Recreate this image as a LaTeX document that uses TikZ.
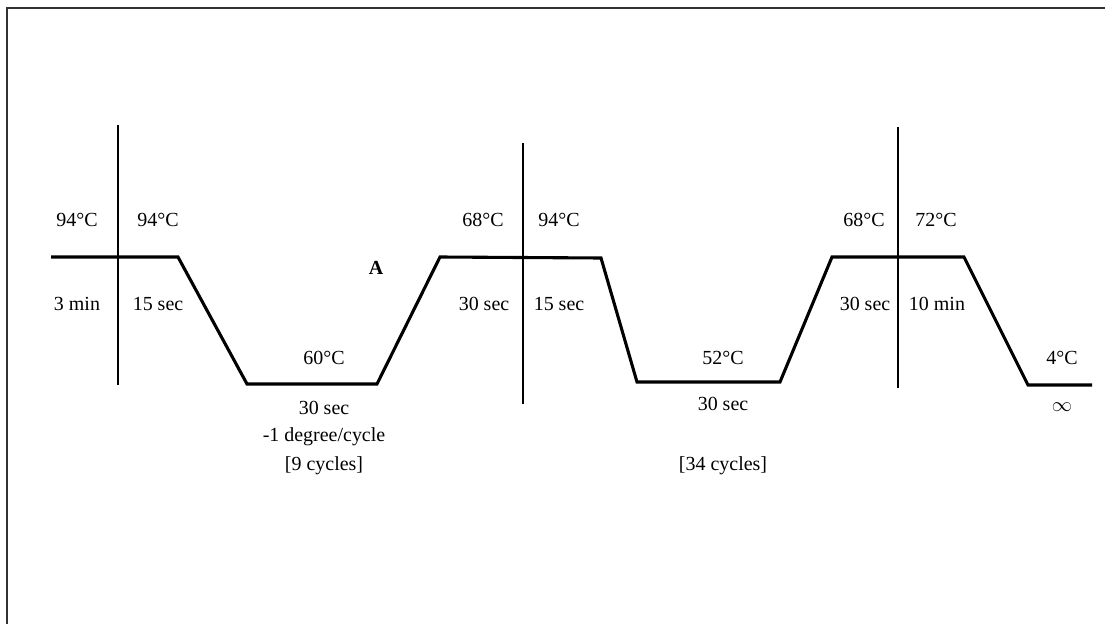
\documentclass[tikz,border=0pt]{standalone}
\usepackage{fontspec}
\setmainfont{Liberation Serif}
\usepackage{tikz}
\usetikzlibrary{positioning}
\definecolor{frame_gray}{RGB}{50,50,50}

\begin{document}
\begin{tikzpicture}[x=0.025cm, y=-0.025cm,
    font=\fontsize{14.2}{17}\selectfont,
    profile/.style={line width=2.2pt, line join=miter},
    divider/.style={line width=1pt},
    lbl/.style={inner sep=0pt, anchor=center}]
        \useasboundingbox (0,0) rectangle (1105,624);
        % Frame (left and top only)
        \draw[frame_gray, line width=0.8pt] (7,624) -- (7,8) -- (1105,8);
        % Temperature profile
        \coordinate (p0) at (51,257);
        \coordinate (p1) at (178,257);
        \coordinate (p2) at (247,384);
        \coordinate (p3) at (377,384);
        \coordinate (p4) at (440,257);
        \coordinate (p5) at (601,258);
        \coordinate (p6) at (637,382);
        \coordinate (p7) at (780,382);
        \coordinate (p8) at (832,257);
        \coordinate (p9) at (964,257);
        \coordinate (p10) at (1028,385);
        \coordinate (p11) at (1092,385);
        \draw[profile] (p0) -- (p1) -- (p2) -- (p3) -- (p4) -- (p5)
          -- (p6) -- (p7) -- (p8) -- (p9) -- (p10) -- (p11);
        % Dividers
        \coordinate (d1t) at (118,125);
        \coordinate (d1b) at (118,385);
        \coordinate (d2t) at (523,143);
        \coordinate (d2b) at (523,404);
        \coordinate (d3t) at (898,127);
        \coordinate (d3b) at (898,388);
        \draw[divider] (d1t) -- (d1b);
        \draw[divider] (d2t) -- (d2b);
        \draw[divider] (d3t) -- (d3b);
        % Initial denaturation
        \node[lbl] (t94a) at (77,220) {94°C};
        \node[lbl] (m3) at (77,304) {3 min};
        % Touchdown cycles
        \node[lbl] (t94b) at (158,220) {94°C};
        \node[lbl] (s15a) at (158,304) {15 sec};
        \node[lbl, font=\fontsize{14.2}{17}\selectfont\bfseries] (la) at (376,268) {A};
        \node[lbl] (t60) at (324,358) {60°C};
        \node[lbl] (s30a) at (324,408) {30 sec};
        \node[lbl] (deg) at (324,437) {-1 degree/cycle};
        \node[lbl] (c9) at (324,466) {[9 cycles]};
        \node[lbl] (t68a) at (483,220) {68°C};
        \node[lbl] (s30b) at (484,304) {30 sec};
        % Main cycles
        \node[lbl] (t94c) at (559,220) {94°C};
        \node[lbl] (s15b) at (559,304) {15 sec};
        \node[lbl] (t52) at (723,358) {52°C};
        \node[lbl] (s30c) at (723,404) {30 sec};
        \node[lbl] (c34) at (723,466) {[34 cycles]};
        \node[lbl] (t68b) at (864,220) {68°C};
        \node[lbl] (s30d) at (865,304) {30 sec};
        % Final extension and hold
        \node[lbl] (t72) at (936,220) {72°C};
        \node[lbl] (m10) at (937,304) {10 min};
        \node[lbl] (t4) at (1062,358) {4°C};
        \node[lbl] (inf) at (1062,407) {$\infty$};
      \end{tikzpicture}
\end{document}
